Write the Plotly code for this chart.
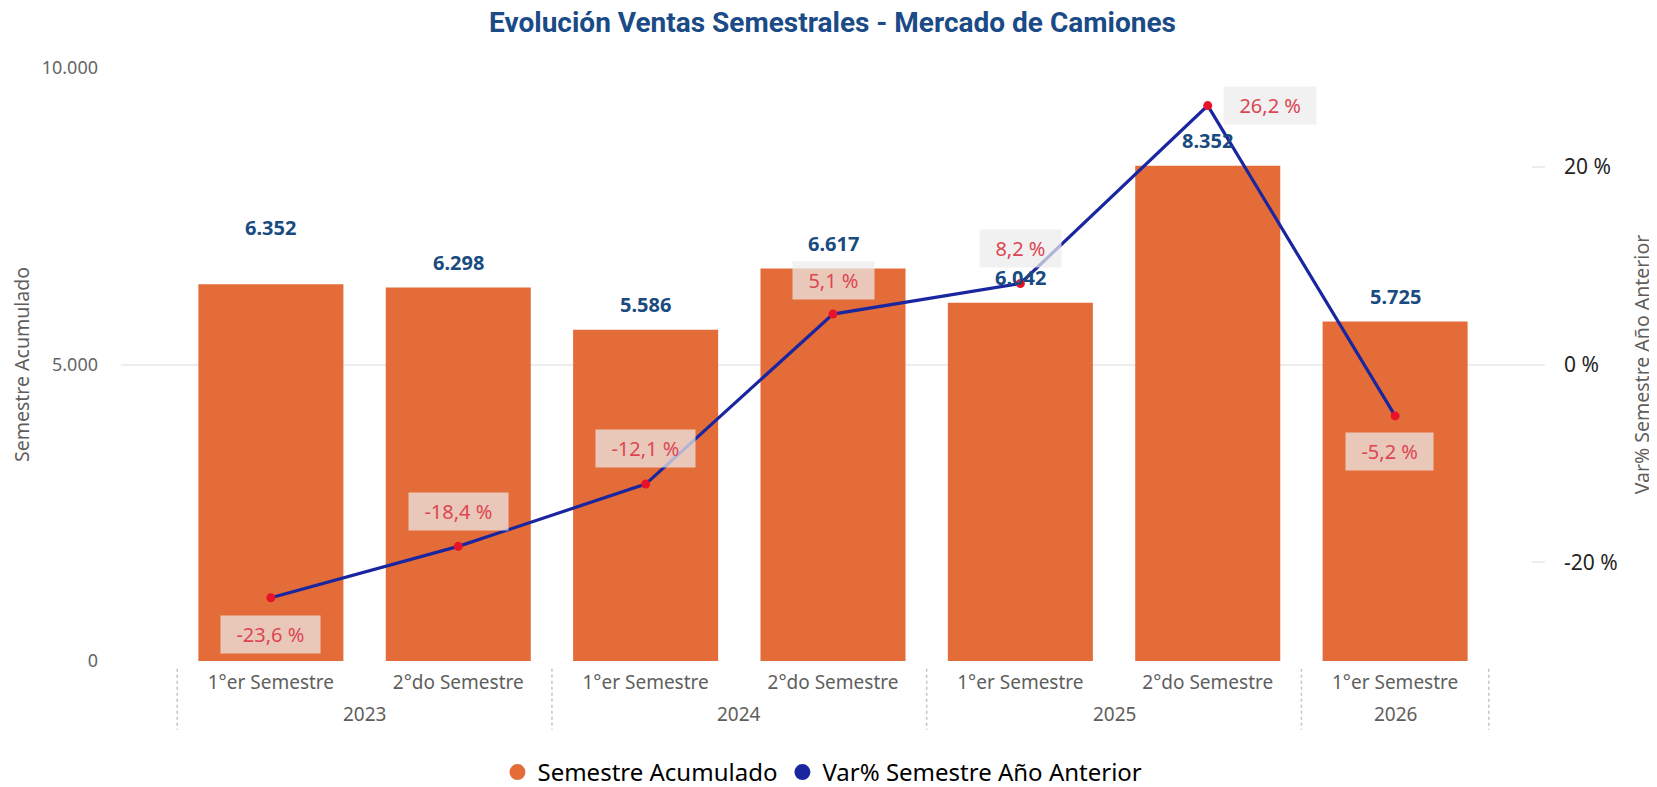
import plotly.graph_objects as go

# data
years = ["2023", "2023", "2024", "2024", "2025", "2025", "2026"]
semesters = [
    "1°er Semestre", "2°do Semestre", "1°er Semestre", "2°do Semestre",
    "1°er Semestre", "2°do Semestre", "1°er Semestre",
]
ventas = [6352, 6298, 5586, 6617, 6042, 8352, 5725]
var_pct = [-23.6, -18.4, -12.1, 5.1, 8.2, 26.2, -5.2]

ORANGE = "#E46C38"
NAVY = "#1A26A0"
DOT_RED = "#E8132B"
LABEL_RED = "#DC4653"
BLUE_TXT = "#1A4B80"
GREY = "#605E5C"
FONT = "Noto Sans, Segoe UI, sans-serif"
NBSP = "\u00a0\u00a0"

# label placement (pixels) for each point, like Power BI's collision avoidance
bar_label_lift = [57, 25, 25, 25, 25, 25, 25]
var_label_shift = [(0, -37), (0, 35), (0, 36), (0, 34), (0, 35), (62, 0), (-6, -36)]

idx = list(range(len(ventas)))

# year groups -> (first index, last index)
groups = []
for i, yr in enumerate(years):
    if groups and groups[-1][0] == yr:
        groups[-1][2] = i
    else:
        groups.append([yr, i, i])

fig = go.Figure()

fig.add_trace(
    go.Bar(
        x=idx,
        y=ventas,
        customdata=[f"{s} {y}" for s, y in zip(semesters, years)],
        marker={"color": ORANGE, "line": {"width": 0}},
        name="Semestre Acumulado",
        showlegend=False,
        hovertemplate="%{customdata}<br>%{y:,}<extra></extra>",
    )
)
fig.add_trace(
    go.Scatter(
        x=idx,
        y=var_pct,
        yaxis="y2",
        mode="lines+markers",
        line={"color": NAVY, "width": 3.2},
        marker={"color": DOT_RED, "size": 9},
        name="Var% Semestre Año Anterior",
        showlegend=False,
        hovertemplate="%{y:.1f} %<extra></extra>",
    )
)

# legend entries drawn as circles, as in the original
for name, color in [("Semestre Acumulado", ORANGE), ("Var% Semestre Año Anterior", NAVY)]:
    fig.add_trace(
        go.Scatter(
            x=[None], y=[None], mode="markers",
            marker={"color": color, "size": 18, "symbol": "circle"},
            name=name, showlegend=True,
        )
    )

annotations = []
for i, v in enumerate(ventas):
    annotations.append(
        dict(
            x=i, y=v, xref="x", yref="y",
            text=f"<b>{v:,}</b>".replace(",", "."),
            showarrow=False, yanchor="middle", yshift=bar_label_lift[i],
            font={"family": FONT, "size": 20, "color": BLUE_TXT},
        )
    )
for i, v in enumerate(var_pct):
    dx, dy = var_label_shift[i]
    annotations.append(
        dict(
            x=i, y=v, xref="x", yref="y2",
            text=NBSP + f"{v:.1f} %".replace(".", ",") + NBSP,
            showarrow=False, xshift=dx, yshift=dy,
            bgcolor="rgba(236,236,236,0.72)", borderpad=5,
            font={"family": FONT, "size": 20, "color": LABEL_RED},
        )
    )
# second level of the category axis: years
for yr, a, b in groups:
    annotations.append(
        dict(
            x=(a + b) / 2, y=-0.0895, xref="x", yref="paper",
            text=yr, showarrow=False, yanchor="middle",
            font={"family": FONT, "size": 19, "color": GREY},
        )
    )

# dotted separators between year groups
bounds = [groups[0][1] - 0.5] + [b + 0.5 for _, _, b in groups]
shapes = [
    dict(
        type="line", xref="x", yref="paper", x0=b, x1=b, y0=-0.013, y1=-0.116,
        line={"color": "#C4C4C4", "width": 1.5, "dash": "dot"},
    )
    for b in bounds
]

# the page body has an 8px margin, so the figure is 8px smaller than the window
fig.update_layout(
    width=1649,
    height=779,
    margin={"l": 113, "r": 112, "t": 60, "b": 126, "autoexpand": False},
    paper_bgcolor="white",
    plot_bgcolor="white",
    font={"family": FONT, "color": GREY},
    title={
        "text": "Evolución Ventas Semestrales - Mercado de Camiones",
        "x": 0.5, "xanchor": "center", "y": 0.982, "yanchor": "middle",
        "font": {"family": "Roboto, sans-serif", "size": 28, "weight": "bold", "color": "#1A4B87"},
    },
    bargap=0.226,
    xaxis={
        "range": [-0.8, 6.8],
        "tickvals": idx,
        "ticktext": semesters,
        "showgrid": False,
        "zeroline": False,
        "tickfont": {"size": 19, "color": GREY},
        "ticklabelstandoff": 8,
        "showline": False,
        "ticks": "",
        "automargin": False,
    },
    yaxis={
        "range": [0, 10000],
        "tickvals": [0, 5000, 10000],
        "ticktext": ["0", "5.000", "10.000"],
        "gridcolor": "#EDEDED",
        "gridwidth": 1.5,
        "zeroline": False,
        "tickfont": {"size": 18, "color": "#666666"},
        "ticklabelstandoff": 22,
        "automargin": False,
        "title": {"text": "Semestre Acumulado", "font": {"size": 19.5, "color": GREY}, "standoff": 29},
    },
    yaxis2={
        "overlaying": "y",
        "side": "right",
        "range": [-30, 30],
        "tickvals": [-20, 0, 20],
        "ticktext": ["-20 %", "0 %", "20 %"],
        "showgrid": False,
        "zeroline": False,
        "ticks": "inside",
        "ticklen": 13,
        "tickwidth": 1.5,
        "tickcolor": "#EDEDED",
        "tickfont": {"size": 21, "color": "#252423"},
        "ticklabelstandoff": 18,
        "automargin": False,
        "title": {"text": "Var% Semestre Año Anterior", "font": {"size": 19.5, "color": GREY}, "standoff": 18},
    },
    legend={
        "orientation": "h",
        "x": 0.4926, "xanchor": "center",
        "y": -0.188, "yanchor": "middle",
        "font": {"size": 24, "color": "#000000"},
        "itemclick": False,
    },
    annotations=annotations,
    shapes=shapes,
)

fig.write_html("out.html")
